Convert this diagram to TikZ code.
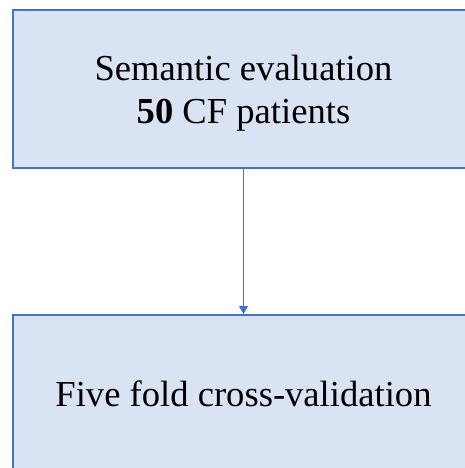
\documentclass[tikz,border=0pt]{standalone}
\usepackage{fontspec}
\setmainfont{Liberation Serif}
\usetikzlibrary{arrows.meta,positioning}
\definecolor{boxfill}{HTML}{DAE3F3}
\definecolor{boxline}{HTML}{4472C4}
\tikzset{
    flowbox/.style={draw=boxline, fill=boxfill, line width=1.5pt,
        minimum width=461pt, minimum height=157.5pt, align=center,
        font=\fontsize{36.6pt}{43pt}\selectfont},
    flowarrow/.style={-{Triangle[width=9pt,length=8pt]}, draw=boxline, fill=boxline, line width=1pt}
}
\begin{document}
\begin{tikzpicture}[x=1pt,y=1pt]
    \useasboundingbox (0,0) rectangle (465,-468);
    \node[flowbox, text depth=0pt] (evalbox) at (243.5,-89) {Semantic evaluation\\\textbf{50} CF patients};
    \node[flowbox, below=145.5pt of evalbox] (cvbox) {Five fold cross-validation};
    \draw[flowarrow] (evalbox) -- (cvbox);
\end{tikzpicture}
\end{document}
